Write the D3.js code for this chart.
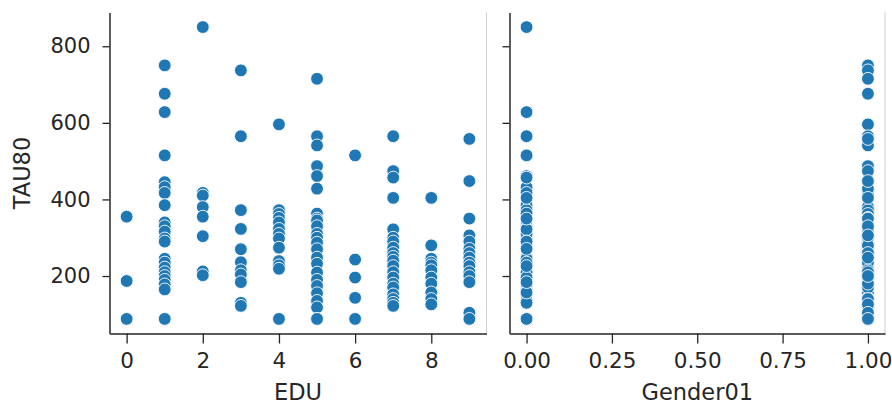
<!DOCTYPE html>
<html>
<head>
<meta charset="utf-8">
<script src="https://cdn.jsdelivr.net/npm/d3@7/dist/d3.min.js"></script>
<style>
  body { margin: 0; background: #fff; }
  text { font-family: "DejaVu Sans", sans-serif; fill: #262626; }
</style>
</head>
<body>
<div id="my_dataviz"></div>
<script>
// observations, one entry per person (EDU, Gender01, TAU80)
var edu = [
  0,0,0,
  1,1,1,1,1,1,1,1,1,1,1,1,1,1,1,1,1,1,1,1,1,1,1,
  2,2,2,2,2,2,2,2,
  3,3,3,3,3,3,3,3,3,3,3,
  4,4,4,4,4,4,4,4,4,4,4,4,4,
  5,5,5,5,5,5,5,5,5,5,5,5,5,5,5,5,5,5,5,5,5,5,5,5,
  6,6,6,6,6,
  7,7,7,7,7,7,7,7,7,7,7,7,7,7,7,7,7,7,7,7,
  8,8,8,8,8,8,8,8,8,8,8,
  9,9,9,9,9,9,9,9,9,9,9,9,9,9,9
];
var gender01 = [
  0,1,0,
  1,1,0,0,1,0,1,0,1,0,1,0,1,0,1,1,0,0,1,1,0,1,0,
  0,0,1,1,0,1,0,1,
  1,0,1,0,1,0,1,0,1,0,1,
  1,0,1,1,0,1,0,1,0,1,0,1,0,
  1,1,1,1,0,1,0,1,0,1,0,1,0,1,0,1,0,1,0,1,0,1,1,0,
  0,1,0,1,0,
  0,1,0,1,0,1,0,0,1,1,0,1,0,1,0,1,0,1,0,1,
  0,1,0,1,0,1,0,1,0,1,1,
  1,1,0,1,0,0,1,1,0,0,1,1,0,1,1
];
var tau80 = [
  355,187,88,
  750,676,628,515,445,432,417,385,340,330,316,298,290,245,235,222,210,200,190,178,165,88,88,
  850,417,410,380,355,304,212,202,
  737,565,372,323,270,236,215,204,184,130,122,
  596,372,362,352,340,323,310,298,274,239,228,219,88,
  715,565,541,487,461,428,363,350,345,330,310,300,287,270,248,232,209,190,174,155,135,118,88,88,
  515,243,196,143,88,
  565,474,457,404,322,300,290,274,260,250,240,226,210,196,180,170,152,140,130,122,
  404,280,245,235,228,215,196,180,157,140,126,
  558,448,350,306,290,271,260,248,235,226,210,200,184,104,88
];

var eduTicks = [0, 2, 4, 6, 8];
var genderTicks = [0, 0.25, 0.5, 0.75, 1];
var tauTicks = [200, 400, 600, 800];

var W = 892, H = 407;
var plotTop = 12.5, plotBottom = 333.5;
var blue = "#1f77b4", ink = "#262626";

var data = tau80.map(function(v, i) { return {edu: edu[i], gender: gender01[i], tau: v}; });

var svg = d3.select("#my_dataviz")
  .append("svg")
    .attr("width", W)
    .attr("height", H);

// shared y scale (5% padding like seaborn)
var ext = d3.extent(tau80), pad = (ext[1] - ext[0]) * 0.05;
var y = d3.scaleLinear()
  .domain([ext[0] - pad, ext[1] + pad])
  .range([plotBottom, plotTop]);

var panels = [
  {key: "edu", label: "EDU", x0: 109.5, x1: 486.5, ticks: eduTicks, fmt: d3.format("d"), labels: true},
  {key: "gender", label: "Gender01", x0: 509.5, x1: 885, ticks: genderTicks, fmt: d3.format(".2f"), labels: false}
];

panels.forEach(function(p) {
  var vals = data.map(function(d) { return d[p.key]; });
  var e = d3.extent(vals), xp = (e[1] - e[0]) * 0.05;
  var x = d3.scaleLinear().domain([e[0] - xp, e[1] + xp]).range([p.x0, p.x1]);

  // light frame line on the right
  svg.append("line")
    .attr("x1", p.x1).attr("x2", p.x1)
    .attr("y1", plotTop).attr("y2", plotBottom)
    .attr("stroke", "#cfcfcf").attr("stroke-width", 1);

  // points
  svg.append("g")
    .selectAll("circle")
    .data(data)
    .enter()
    .append("circle")
      .attr("cx", function(d) { return x(d[p.key]); })
      .attr("cy", function(d) { return y(d.tau); })
      .attr("r", 6.4)
      .attr("fill", blue)
      .attr("stroke", "#fff")
      .attr("stroke-width", 0.9);

  // x axis
  var gx = svg.append("g")
    .attr("transform", "translate(0," + plotBottom + ")")
    .call(d3.axisBottom(x).tickValues(p.ticks).tickFormat(p.fmt)
      .tickSize(10).tickSizeOuter(0).tickPadding(9));
  gx.select(".domain").attr("stroke", ink).attr("stroke-width", 1.5);
  gx.selectAll(".tick line").attr("stroke", ink).attr("stroke-width", 1.3);
  gx.selectAll(".tick text").style("font-size", "21.5px").style("font-family", "DejaVu Sans").attr("fill", ink);

  // y axis
  var gy = svg.append("g")
    .attr("transform", "translate(" + p.x0 + ",0)")
    .call(d3.axisLeft(y).tickValues(tauTicks)
      .tickFormat(p.labels ? d3.format("d") : function() { return ""; })
      .tickSize(7).tickSizeOuter(0).tickPadding(12));
  gy.select(".domain").attr("stroke", ink).attr("stroke-width", 1.5);
  gy.selectAll(".tick line").attr("stroke", ink).attr("stroke-width", 1.3);
  gy.selectAll(".tick text").style("font-size", "21px").style("font-family", "DejaVu Sans").attr("fill", ink);

  // axis label
  svg.append("text")
    .attr("x", (p.x0 + p.x1) / 2)
    .attr("y", 400)
    .attr("text-anchor", "middle")
    .style("font-size", "22.5px")
    .text(p.label);
});

svg.append("text")
  .attr("transform", "translate(30," + ((plotTop + plotBottom) / 2) + ") rotate(-90)")
  .attr("text-anchor", "middle")
  .style("font-size", "22.5px")
  .text("TAU80");
</script>
</body>
</html>
